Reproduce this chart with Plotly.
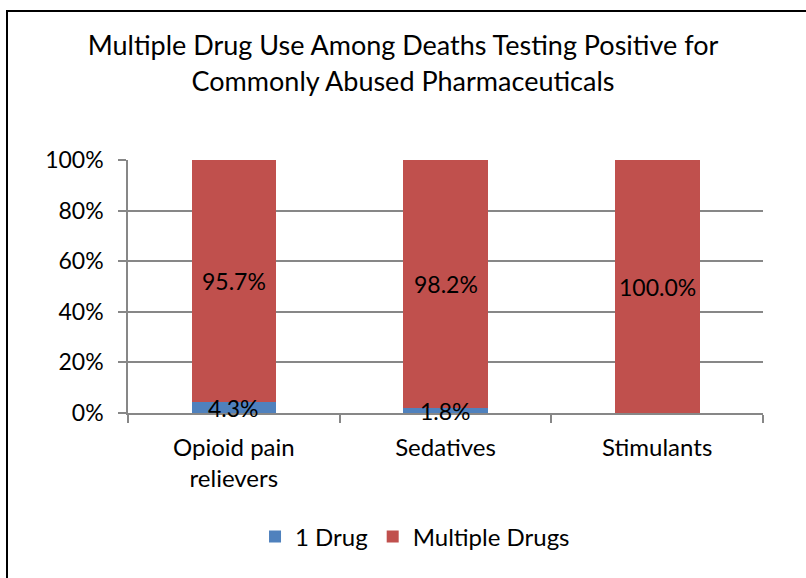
import plotly.graph_objects as go

categories = ["Opioid pain<br>relievers", "Sedatives", "Stimulants"]
one_drug = [4.3, 1.8, 0.0]
multiple_drugs = [95.7, 98.2, 100.0]
y_ticks = [0, 20, 40, 60, 80, 100]
y_tick_labels = ["0%", "20%", "40%", "60%", "80%", "100%"]

BLUE = "#4F81BD"
RED = "#C0504D"
GRID = "#878787"
FONT = "Lato, 'Open Sans', sans-serif"

fig = go.Figure()
fig.add_trace(go.Bar(x=categories, y=one_drug, name="1 Drug",
                     marker=dict(color=BLUE, line=dict(width=0))))
fig.add_trace(go.Bar(x=categories, y=multiple_drugs, name="Multiple Drugs",
                     marker=dict(color=RED, line=dict(width=0))))

# value labels centred in each segment
annotations = []
for cat, a, b in zip(categories, one_drug, multiple_drugs):
    if a > 0:
        annotations.append(dict(x=cat, y=a / 2, text=f"{a:.1f}%", showarrow=False,
                                xref="x", yref="y", font=dict(size=23, color="black")))
    annotations.append(dict(x=cat, y=a + b / 2, text=f"{b:.1f}%", showarrow=False,
                            xref="x", yref="y", font=dict(size=23, color="black")))

fig.update_layout(
    width=806, height=578,
    margin=dict(l=128, r=43, t=160, b=165),
    paper_bgcolor="white", plot_bgcolor="white",
    font=dict(family=FONT, color="black", size=23),
    barmode="stack", bargap=0.6,
    title=dict(text="Multiple Drug Use Among Deaths Testing Positive for<br>Commonly Abused Pharmaceuticals",
               x=0.5, xanchor="center", y=0.904, yanchor="middle",
               font=dict(size=27, family=FONT, color="black")),
    showlegend=True,
    legend=dict(orientation="h", x=0.452, xanchor="center", y=-0.49, yanchor="middle",
                font=dict(size=24), itemwidth=30, traceorder="normal"),
    annotations=annotations,
    shapes=[dict(type="rect", xref="paper", yref="paper",
                 x0=(7 - 128) / 635, x1=1.2, y0=-1.0, y1=1 + (160 - 11) / 253,
                 line=dict(color="black", width=2), fillcolor="rgba(0,0,0,0)", layer="below")],
)
fig.update_xaxes(
    type="category", tickson="boundaries", ticks="outside", ticklen=8,
    tickcolor=GRID, tickwidth=1.5, showline=True, linecolor=GRID, linewidth=1.5,
    showgrid=False, tickfont=dict(size=24), ticklabelstandoff=12,
)
fig.update_yaxes(
    range=[0, 100], tickvals=y_ticks, ticktext=y_tick_labels,
    ticks="outside", ticklen=8, tickcolor=GRID, tickwidth=1.5,
    showline=True, linecolor=GRID, linewidth=1.5,
    showgrid=True, gridcolor=GRID, gridwidth=1.5, zeroline=False,
    tickfont=dict(size=23), ticklabelstandoff=10,
)

fig.write_html("out.html")
